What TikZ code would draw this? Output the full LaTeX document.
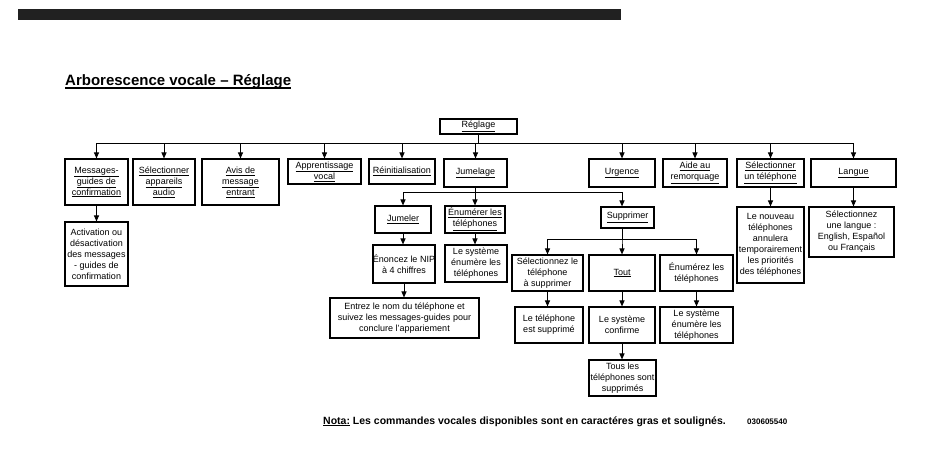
\documentclass[tikz,border=0pt]{standalone}
\usepackage{fontspec}
\setmainfont{Liberation Sans}
\usetikzlibrary{arrows.meta}
\newcommand\ulx[1]{\underline{#1}}
\begin{document}
\begin{tikzpicture}[x=1pt,y=-1pt,
  bx/.style={draw, line width=1.1pt, inner sep=0pt, align=center, font=\fontsize{9}{11}\selectfont},
  arr/.style={line width=1pt, -{Triangle[length=6pt,width=5pt]}},
  ln/.style={line width=1pt}]
\useasboundingbox (0,0) rectangle (950,469);
\fill[black!87] (18,9) rectangle (621,20);
% title
\node[anchor=base west, inner sep=0pt, font=\fontsize{15}{18}\selectfont\bfseries] (title) at (65,85) {Arborescence vocale -- Réglage};
\draw[line width=1.2pt] ([yshift=-3pt]title.base west) -- ([yshift=-3pt]title.base east);
% level 0
\node[bx,minimum width=77pt,minimum height=15pt] (reglage) at (478.5,126.5) {\ulx{Réglage}};
% level 1
\node[bx,minimum width=63pt,minimum height=46pt] (msg) at (96.5,182) {\ulx{Messages-}\\\ulx{guides de}\\\ulx{confirmation}};
\node[bx,minimum width=62pt,minimum height=46pt] (selaudio) at (164,182) {\ulx{Sélectionner}\\\ulx{appareils}\\\ulx{audio}};
\node[bx,minimum width=77pt,minimum height=46pt] (avis) at (240.5,182) {\ulx{Avis de}\\\ulx{message}\\\ulx{entrant}};
\node[bx,minimum width=73pt,minimum height=25pt] (appr) at (324.5,171.5) {\ulx{Apprentissage}\\\ulx{vocal}};
\node[bx,minimum width=66pt,minimum height=25pt] (reinit) at (402,171.5) {\ulx{Réinitialisation}};
\node[bx,minimum width=63pt,minimum height=28pt] (jumelage) at (475.5,173) {\ulx{Jumelage}};
\node[bx,minimum width=66pt,minimum height=28pt] (urgence) at (622,173) {\ulx{Urgence}};
\node[bx,minimum width=64pt,minimum height=28pt] (aide) at (695,173) {\ulx{Aide au}\\\ulx{remorquage}};
\node[bx,minimum width=67pt,minimum height=28pt] (selunt) at (770.5,173) {\ulx{Sélectionner}\\\ulx{un téléphone}};
\node[bx,minimum width=85pt,minimum height=28pt] (langue) at (853.5,173) {\ulx{Langue}};
% level 2
\node[bx,minimum width=63pt,minimum height=64pt] (activ) at (96.5,254) {Activation ou\\désactivation\\des messages\\- guides de\\confirmation};
\node[bx,minimum width=56pt,minimum height=27pt] (jumeler) at (403,219.5) {\ulx{Jumeler}};
\node[bx,minimum width=60pt,minimum height=27pt] (enumer) at (475,219.5) {\ulx{Énumérer les}\\\ulx{téléphones}};
\node[bx,minimum width=53pt,minimum height=21pt] (suppr) at (627.5,217.5) {\ulx{Supprimer}};
\node[bx,minimum width=67pt,minimum height=76pt] (nouveau) at (770.5,245) {Le nouveau\\téléphones\\annulera\\temporairement\\les priorités\\des téléphones};
\node[bx,minimum width=85pt,minimum height=50pt] (selang) at (851.5,232) {Sélectionnez\\une langue :\\English, Español\\ou Français};
% level 3
\node[bx,minimum width=62pt,minimum height=38pt] (nip) at (404,264) {Énoncez le NIP\\à 4 chiffres};
\node[bx,minimum width=62pt,minimum height=37pt] (sysenumA) at (476,263.5) {Le système\\énumère les\\téléphones};
\node[bx,minimum width=149pt,minimum height=40pt] (entrez) at (404.5,318) {Entrez le nom du téléphone et\\suivez les messages-guides pour\\conclure l'appariement};
\node[bx,minimum width=71pt,minimum height=36pt] (selsup) at (547.5,273) {Sélectionnez le\\téléphone\\à supprimer};
\node[bx,minimum width=66pt,minimum height=36pt] (tout) at (622,273) {\ulx{Tout}};
\node[bx,minimum width=73pt,minimum height=36pt] (enumz) at (696.5,273) {Énumérez les\\téléphones};
\node[bx,minimum width=68pt,minimum height=36pt] (telsup) at (549,325) {Le téléphone\\est supprimé};
\node[bx,minimum width=66pt,minimum height=36pt] (confirme) at (622,325) {Le système\\confirme};
\node[bx,minimum width=73pt,minimum height=36pt] (sysenumB) at (696.5,325) {Le système\\énumère les\\téléphones};
\node[bx,minimum width=67pt,minimum height=36pt] (tous) at (622.5,378) {Tous les\\téléphones sont\\supprimés};
% main bus
\foreach \c in {msg,selaudio,avis,appr,reinit,jumelage,urgence,aide,selunt,langue}
  \draw[arr] (reglage.south) -- ++(0,9) -| (\c.north);
% jumelage bus
\foreach \c in {jumeler,enumer}
  \draw[arr] (jumelage.south) -- ++(0,5) -| (\c.north);
\draw[arr] (jumelage.south) -- ++(0,5) -| (tout.north |- suppr.north);
% supprimer bus
\foreach \c in {selsup,tout,enumz}
  \draw[arr] (tout.north |- suppr.south) -- ++(0,11) -| (\c.north);
% verticals
\draw[arr] (msg.south) -- (activ.north);
\draw[arr] (jumeler.south) -- (jumeler.south |- nip.north);
\draw[arr] (nip.south) -- (nip.south |- entrez.north);
\draw[arr] (enumer.south) -- (enumer.south |- sysenumA.north);
\draw[arr] (selsup.south) -- (selsup.south |- telsup.north);
\draw[arr] (tout.south) -- (confirme.north);
\draw[arr] (confirme.south) -- (confirme.south |- tous.north);
\draw[arr] (enumz.south) -- (sysenumB.north);
\draw[arr] (selunt.south) -- (nouveau.north);
\draw[arr] (langue.south) -- (langue.south |- selang.north);
% note
\node[anchor=base west, inner sep=0pt, font=\fontsize{10.5}{12}\selectfont\bfseries] (nota) at (323,424) {\underline{Nota:} Les commandes vocales disponibles sont en caractéres gras et soulignés.};
\node[anchor=base west, inner sep=0pt, font=\fontsize{8}{10}\selectfont\bfseries] (code) at (747,424) {030605540};
\end{tikzpicture}
\end{document}
